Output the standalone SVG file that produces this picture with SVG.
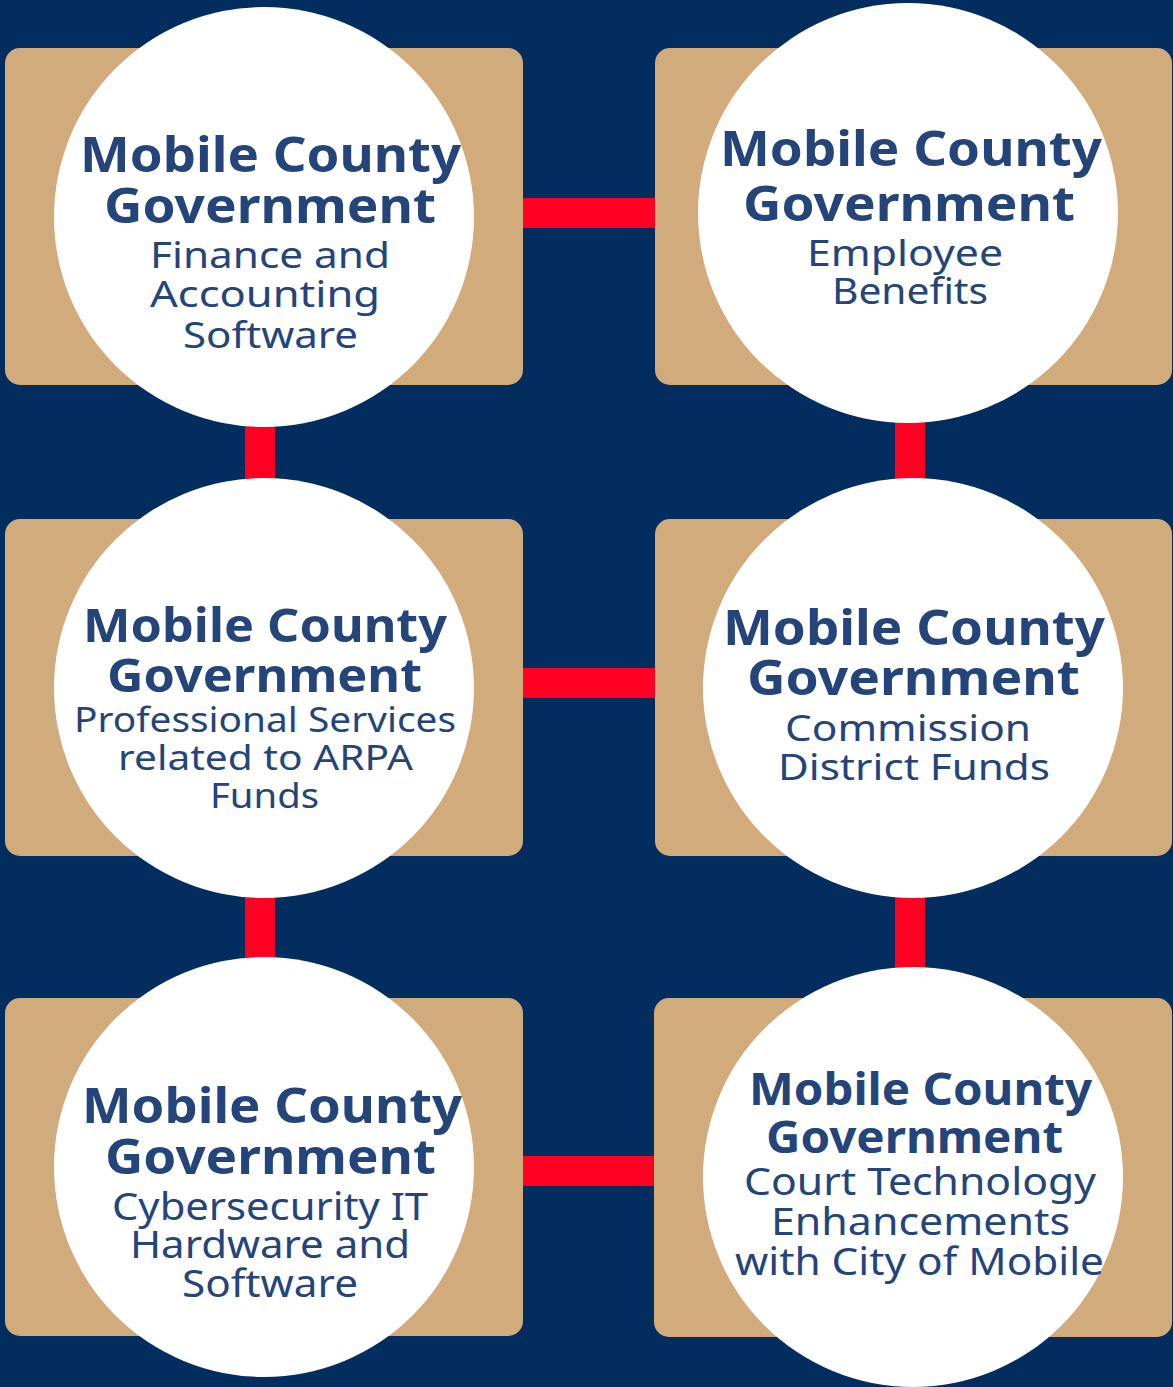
<svg xmlns="http://www.w3.org/2000/svg" width="1173" height="1387" viewBox="0 0 1173 1387">
<style>
.card{fill:#D1AB7B}
.disc{fill:#FFFFFF}
.conn{stroke:#FF0022;stroke-width:30;fill:none}
text{fill:#24447A;font-family:"Noto Sans","Open Sans",sans-serif}
.b{font-weight:700}
.r{font-weight:400}
</style>
<rect x="0" y="0" width="1173" height="1387" fill="#042D5F"/>
<g id="connectors">
<line class="conn" x1="264" y1="213" x2="910" y2="213"/>
<line class="conn" x1="264" y1="683" x2="910" y2="683"/>
<line class="conn" x1="264" y1="1171" x2="910" y2="1171"/>
<line class="conn" x1="260" y1="217" x2="260" y2="1167"/>
<line class="conn" x1="910" y1="213" x2="910" y2="1177"/>
</g>
<g id="node-finance">
<rect class="card" x="5" y="48" width="518" height="337" rx="15"/>
<circle class="disc" cx="264" cy="217" r="210"/>
<text class="b" x="80" y="172" font-size="49" textLength="381" lengthAdjust="spacingAndGlyphs">Mobile County</text>
<text class="b" x="104" y="223" font-size="49" textLength="332" lengthAdjust="spacingAndGlyphs">Government</text>
<text class="r" x="150" y="268" font-size="37" textLength="240" lengthAdjust="spacingAndGlyphs">Finance and</text>
<text class="r" x="150" y="307" font-size="37" textLength="230" lengthAdjust="spacingAndGlyphs">Accounting</text>
<text class="r" x="183" y="348" font-size="37" textLength="175" lengthAdjust="spacingAndGlyphs">Software</text>
</g>
<g id="node-benefits">
<rect class="card" x="655" y="48" width="517" height="337" rx="15"/>
<circle class="disc" cx="908" cy="213" r="210"/>
<text class="b" x="720" y="166" font-size="49" textLength="382" lengthAdjust="spacingAndGlyphs">Mobile County</text>
<text class="b" x="743" y="221" font-size="49" textLength="332" lengthAdjust="spacingAndGlyphs">Government</text>
<text class="r" x="807" y="266" font-size="36" textLength="196" lengthAdjust="spacingAndGlyphs">Employee</text>
<text class="r" x="832" y="304" font-size="36" textLength="156" lengthAdjust="spacingAndGlyphs">Benefits</text>
</g>
<g id="node-arpa">
<rect class="card" x="5" y="519" width="518" height="337" rx="15"/>
<circle class="disc" cx="264" cy="688" r="210"/>
<text class="b" x="83" y="642" font-size="47" textLength="364" lengthAdjust="spacingAndGlyphs">Mobile County</text>
<text class="b" x="107" y="692" font-size="47" textLength="315" lengthAdjust="spacingAndGlyphs">Government</text>
<text class="r" x="74" y="732" font-size="34" textLength="382" lengthAdjust="spacingAndGlyphs">Professional Services</text>
<text class="r" x="118" y="770" font-size="34" textLength="295" lengthAdjust="spacingAndGlyphs">related to ARPA</text>
<text class="r" x="210" y="808" font-size="34" textLength="109" lengthAdjust="spacingAndGlyphs">Funds</text>
</g>
<g id="node-commission">
<rect class="card" x="655" y="519" width="517" height="337" rx="15"/>
<circle class="disc" cx="913" cy="688" r="210"/>
<text class="b" x="723" y="645" font-size="49" textLength="382" lengthAdjust="spacingAndGlyphs">Mobile County</text>
<text class="b" x="747" y="695" font-size="49" textLength="333" lengthAdjust="spacingAndGlyphs">Government</text>
<text class="r" x="785" y="741" font-size="37" textLength="246" lengthAdjust="spacingAndGlyphs">Commission</text>
<text class="r" x="778" y="780" font-size="37" textLength="272" lengthAdjust="spacingAndGlyphs">District Funds</text>
</g>
<g id="node-cyber">
<rect class="card" x="5" y="998" width="518" height="338" rx="15"/>
<circle class="disc" cx="264" cy="1167" r="210"/>
<text class="b" x="82" y="1123" font-size="49" textLength="380" lengthAdjust="spacingAndGlyphs">Mobile County</text>
<text class="b" x="105" y="1174" font-size="49" textLength="331" lengthAdjust="spacingAndGlyphs">Government</text>
<text class="r" x="112" y="1220" font-size="38" textLength="316" lengthAdjust="spacingAndGlyphs">Cybersecurity IT</text>
<text class="r" x="130" y="1258" font-size="38" textLength="280" lengthAdjust="spacingAndGlyphs">Hardware and</text>
<text class="r" x="182" y="1297" font-size="38" textLength="176" lengthAdjust="spacingAndGlyphs">Software</text>
</g>
<g id="node-court">
<rect class="card" x="654" y="998" width="518" height="339" rx="15"/>
<circle class="disc" cx="913" cy="1177" r="210"/>
<text class="b" x="749" y="1105" font-size="44" textLength="343" lengthAdjust="spacingAndGlyphs">Mobile County</text>
<text class="b" x="766" y="1153" font-size="44" textLength="297" lengthAdjust="spacingAndGlyphs">Government</text>
<text class="r" x="744" y="1195" font-size="38" textLength="352" lengthAdjust="spacingAndGlyphs">Court Technology</text>
<text class="r" x="771" y="1235" font-size="38" textLength="299" lengthAdjust="spacingAndGlyphs">Enhancements</text>
<text class="r" x="735" y="1275" font-size="38" textLength="369" lengthAdjust="spacingAndGlyphs">with City of Mobile</text>
</g>
</svg>
